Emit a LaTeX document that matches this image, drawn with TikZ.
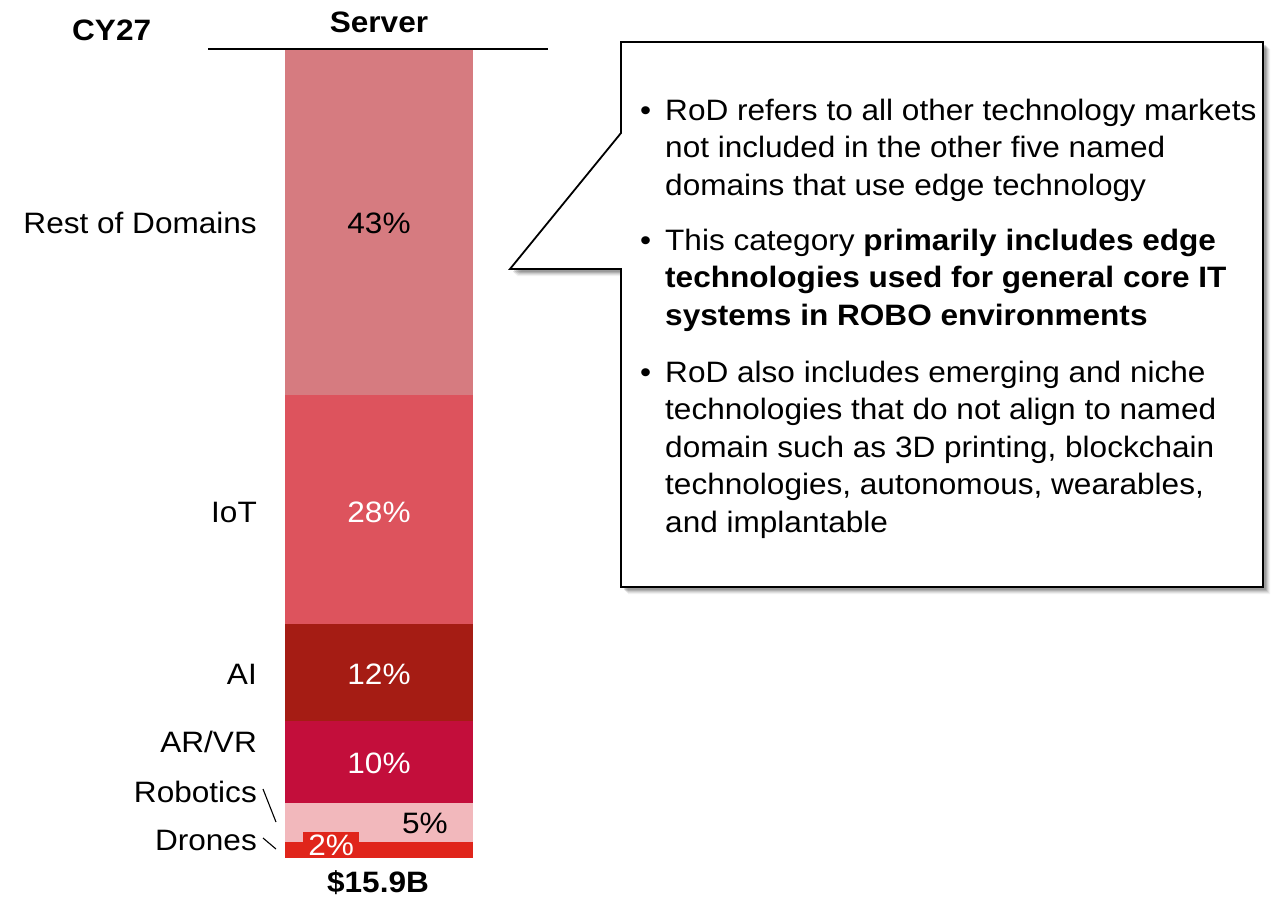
\documentclass[tikz,border=0pt]{standalone}
\usepackage{fontspec}
\setmainfont{Liberation Sans}[FakeStretch=1.07]
\newcommand{\stackedlines}[1]{\vtop{\halign{##\hfil\cr#1\crcr}}}
\begin{document}
\begin{tikzpicture}[x=1pt,y=-1pt,
  lbl/.style={anchor=base east, inner sep=0pt, font=\fontsize{29.5}{36}\selectfont},
  pct/.style={anchor=base, inner sep=0pt, font=\fontsize{29.5}{36}\selectfont},
  head/.style={anchor=base, inner sep=0pt, font=\fontsize{29.5}{36}\selectfont\bfseries},
  para/.style={anchor=base west, inner sep=0pt, font=\fontsize{29.5}{37.5}\selectfont},
  dot/.style={anchor=base west, inner sep=0pt, font=\fontsize{29.5}{37.5}\selectfont},
  leader/.style={draw=black, line width=1.1pt}]
\definecolor{cRoD}{HTML}{D67B80}
\definecolor{cIoT}{HTML}{DD535D}
\definecolor{cAI}{HTML}{A51C14}
\definecolor{cARVR}{HTML}{C30E3B}
\definecolor{cRob}{HTML}{F2B8BC}
\definecolor{cDro}{HTML}{E0251B}
\useasboundingbox (0,0) rectangle (1281,898);

% headings
\node[anchor=base west, inner sep=0pt, font=\fontsize{29.5}{36}\selectfont\bfseries] (cy) at (72,40) {CY27};
\node[head] (server) at (379,32) {Server};
\coordinate (axl) at (208,49);
\coordinate (axr) at (548,49);
\draw[line width=1.6pt] (axl) -- (axr);

% stacked bar
\fill[cRoD]  (285,50)  rectangle (473,395);
\fill[cIoT]  (285,395) rectangle (473,624);
\fill[cAI]   (285,624) rectangle (473,721);
\fill[cARVR] (285,721) rectangle (473,803);
\fill[cRob]  (285,803) rectangle (473,842);
\fill[cDro]  (285,842) rectangle (473,858);

% segment values
\node[pct] (v43) at (379,233) {43\%};
\node[pct, text=white] (v28) at (379,522) {28\%};
\node[pct, text=white] (v12) at (379,684) {12\%};
\node[pct, text=white] (v10) at (379,773) {10\%};
\node[pct] (v5) at (425,833) {5\%};
\node[fill=cDro, text=white, anchor=north west, minimum width=56pt, minimum height=26pt, inner sep=0pt,
      font=\fontsize{29.5}{36}\selectfont] (v2) at (303,832) {\raisebox{-2pt}{2\%}};
\node[head] (total) at (378,892) {\$15.9B};

% segment names
\node[lbl] (lrod) at (257,233) {Rest of Domains};
\node[lbl] (liot) at (257,522) {IoT};
\node[lbl] (lai) at (257,684) {AI};
\node[lbl] (larvr) at (257,752) {AR/VR};
\node[lbl] (lrob) at (257,802) {Robotics};
\node[lbl] (ldro) at (257,850) {Drones};
\coordinate (rob1) at (263,789);
\coordinate (rob2) at (276,822);
\coordinate (dro1) at (263,838);
\coordinate (dro2) at (276,849);
\draw[leader] (rob1) -- (rob2);
\draw[leader] (dro1) -- (dro2);

% callout shadow
\foreach \o/\a in {7/0.05,6/0.07,5/0.09,4/0.12,3/0.14}{
  \fill[black, opacity=\a, shift={(\o,\o)}]
    (621,42) -- (1263,42) -- (1263,587) -- (621,587) -- (621,269) -- (510,269) -- (621,133) -- cycle;
}
% callout
\draw[fill=white, line width=1.8pt, line join=miter]
  (621,42) -- (1263,42) -- (1263,587) -- (621,587) -- (621,269) -- (510,269) -- (621,133) -- cycle;

\node[dot] (b1) at (640,120) {•};
\node[para] (t1) at (665,120) {\stackedlines{RoD refers to all other technology markets\cr not included in the other five named\cr domains that use edge technology}};
\node[dot] (b2) at (640,250) {•};
\node[para] (t2) at (665,250) {\stackedlines{This category \textbf{primarily includes edge}\cr \textbf{technologies used for general core IT}\cr \textbf{systems in ROBO environments}}};
\node[dot] (b3) at (640,382) {•};
\node[para] (t3) at (665,382) {\stackedlines{RoD also includes emerging and niche\cr technologies that do not align to named\cr domain such as 3D printing, blockchain\cr technologies, autonomous, wearables,\cr and implantable}};
\end{tikzpicture}
\end{document}
